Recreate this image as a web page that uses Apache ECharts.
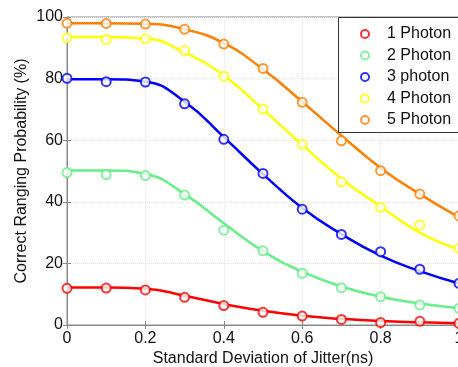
<!DOCTYPE html>
<html>
<head>
<meta charset="utf-8">
<script src="https://cdn.jsdelivr.net/npm/echarts@6/dist/echarts.min.js"></script>
<style>
  html, body { margin: 0; padding: 0; background: #fff; }
  #chart { width: 458px; height: 367px; }
</style>
</head>
<body>
<div id="chart"></div>
<script>
(function () {
    'use strict';

    // jitter std dev (ns)
    var jitter = [0, 0.1, 0.2, 0.3, 0.4, 0.5, 0.6, 0.7, 0.8, 0.9, 1.0];
    var names = ['1 Photon', '2 Photon', '3 photon', '4 Photon', '5 Photon'];
    var colors = ['#ff0000', '#66ee88', '#0000ff', '#ffff00', '#ff8000'];

    // measured points (circles)
    var meas1 = [11.9, 12.0, 11.4, 9.0, 6.3, 4.1, 2.9, 1.8, 0.8, 1.2, 0.5];
    var meas2 = [49.5, 48.8, 48.5, 42.2, 30.8, 24.1, 16.8, 12.1, 9.2, 6.5, 5.4];
    var meas3 = [80.1, 79.0, 78.9, 71.8, 60.3, 49.2, 37.6, 29.4, 23.8, 18.1, 13.5];
    var meas4 = [93.3, 92.7, 92.9, 89.1, 80.8, 70.1, 58.7, 46.5, 38.2, 32.5, 24.9];
    var meas5 = [98.0, 97.9, 97.7, 96.0, 91.2, 83.3, 72.3, 59.8, 50.1, 42.5, 35.4];

    // fitted curves (solid lines)
    var fit1 = [12.2, 12.2, 11.8, 9.5, 6.8, 4.6, 3.0, 2.0, 1.3, 0.9, 0.6];
    var fit2 = [50.2, 50.2, 49.0, 42.5, 33.0, 24.0, 17.3, 12.5, 9.2, 7.0, 5.5];
    var fit3 = [79.8, 79.8, 79.0, 72.5, 61.0, 49.0, 38.0, 29.5, 22.5, 17.5, 13.5];
    var fit4 = [93.5, 93.5, 93.0, 88.5, 81.0, 70.0, 58.5, 47.5, 38.5, 30.0, 24.5];
    var fit5 = [98.0, 98.0, 97.8, 96.0, 91.5, 83.0, 72.5, 61.5, 51.0, 42.5, 35.0];

    var yTicks = [0, 20, 40, 60, 80, 100];

    var meas = [meas1, meas2, meas3, meas4, meas5];
    var fits = [fit1, fit2, fit3, fit4, fit5];

    function pairs(ys) {
        var out = [];
        for (var i = 0; i < jitter.length; i++) {
            out.push([jitter[i], ys[i]]);
        }
        return out;
    }

    var font = 'Liberation Sans, Arial, Helvetica, sans-serif';
    var series = [];

    for (var s = 0; s < names.length; s++) {
        series.push({
            name: 'fit' + s,
            type: 'line',
            data: pairs(fits[s]),
            smooth: 0.5,
            showSymbol: false,
            silent: true,
            lineStyle: { color: colors[s], width: 2.5 },
            z: 2
        });
    }
    for (var m = 0; m < names.length; m++) {
        series.push({
            name: names[m],
            type: 'scatter',
            data: pairs(meas[m]),
            symbol: 'emptyCircle',
            symbolSize: 9,
            itemStyle: { color: colors[m], borderColor: colors[m], borderWidth: 2 },
            z: 3
        });
    }

    var chart = echarts.init(document.getElementById('chart'));

    chart.setOption({
        animation: false,
        backgroundColor: '#fff',
        textStyle: { fontFamily: font },
        grid: {
            left: 67,
            width: 392,
            top: 17,
            bottom: 42,
            outerBoundsMode: 'none',
            show: true,
            borderColor: '#888',
            borderWidth: 1
        },
        // legend frame runs past the right edge like the original
        graphic: [{
            type: 'rect',
            left: 338,
            top: 17,
            shape: { width: 130, height: 115 },
            style: { fill: '#fff', stroke: '#333', lineWidth: 1 },
            z: 90
        }],
        legend: {
            data: names,
            orient: 'vertical',
            left: 350,
            top: 17,
            itemWidth: 34,
            itemHeight: 8,
            itemGap: 5.5,
            padding: [9, 0, 5, 10],
            textStyle: { fontFamily: font, fontSize: 16, color: '#111' },
            z: 100
        },
        xAxis: [{
            type: 'value',
            min: 0,
            max: 1,
            interval: 0.2,
            name: 'Standard Deviation of Jitter(ns)',
            nameLocation: 'middle',
            nameGap: 26,
            nameMoveOverlap: false,
            nameTextStyle: { fontFamily: font, fontSize: 16, color: '#111' },
            axisLine: { show: true, lineStyle: { color: '#888' } },
            axisTick: { show: true, inside: true, length: 4, lineStyle: { color: '#888' } },
            axisLabel: { fontFamily: font, fontSize: 16, color: '#111', margin: 6 },
            splitLine: { show: true, lineStyle: { color: '#e4e4e4', type: 'dotted' } }
        }, {
            type: 'value',
            position: 'top',
            min: 0,
            max: 1,
            interval: 0.2,
            axisLine: { show: false },
            axisTick: { show: true, inside: true, length: 4, lineStyle: { color: '#888' } },
            axisLabel: { show: false },
            splitLine: { show: false }
        }],
        yAxis: [{
            type: 'value',
            min: yTicks[0],
            max: yTicks[yTicks.length - 1],
            interval: 20,
            name: 'Correct Ranging Probability (%)',
            nameLocation: 'middle',
            nameGap: 37,
            nameMoveOverlap: false,
            nameTextStyle: { fontFamily: font, fontSize: 16, color: '#111' },
            axisLine: { show: true, lineStyle: { color: '#888' } },
            axisTick: { show: true, inside: true, length: 4, lineStyle: { color: '#888' } },
            axisLabel: { fontFamily: font, fontSize: 16, color: '#111', margin: 4 },
            splitLine: { show: true, lineStyle: { color: '#e4e4e4', type: 'dotted' } }
        }, {
            type: 'value',
            position: 'right',
            min: 0,
            max: 100,
            interval: 20,
            axisLine: { show: false },
            axisTick: { show: true, inside: true, length: 4, lineStyle: { color: '#888' } },
            axisLabel: { show: false },
            splitLine: { show: false }
        }],
        series: series
    });
}());
</script>
</body>
</html>
